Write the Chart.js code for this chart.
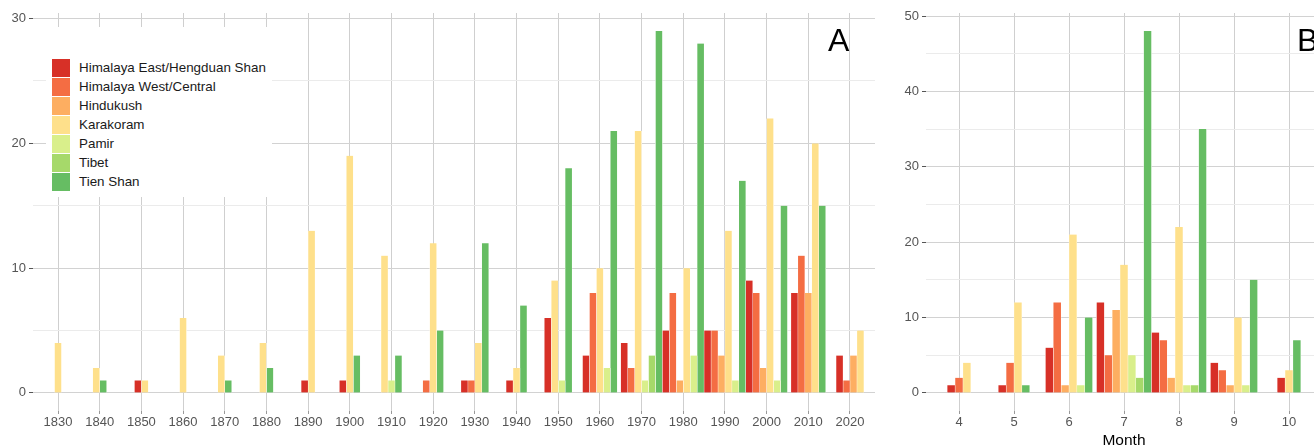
<!DOCTYPE html>
<html lang="en">
<head>
    <meta charset="UTF-8">
    <meta name="viewport" content="width=device-width, initial-scale=1.0">
    <title>Surges by decade and month</title>
    <script src="https://cdn.jsdelivr.net/npm/chart.js"></script>
    <style>
        * {
            margin: 0;
            padding: 0;
            box-sizing: border-box;
        }
        body {
            position: relative;
            width: 1314px;
            height: 446px;
            overflow: hidden;
            background: #ffffff;
            font-family: "Liberation Sans", Arial, sans-serif;
        }
        .panel {
            position: absolute;
            top: 0;
            height: 446px;
        }
        #panelA { left: 0; width: 880px; }
        #panelB { left: 880px; width: 452px; }
        .tag {
            position: absolute;
            top: 24px;
            font-size: 32px;
            line-height: 1;
            color: #000;
        }
        .legend {
            position: absolute;
            left: 46px;
            top: 27px;
            width: 226px;
            height: 170px;
            background: #ffffff;
            padding: 31px 0 0 6px;
        }
        .legend-item {
            display: flex;
            align-items: center;
            height: 19px;
            font-size: 13.4px;
            color: #1a1a1a;
        }
        .legend-key {
            width: 18px;
            height: 18px;
            margin-right: 9px;
        }
        .x-title {
            position: absolute;
            left: 1074px;
            width: 100px;
            top: 432px;
            text-align: center;
            font-size: 15.5px;
            line-height: 1;
            color: #000;
        }
    </style>
</head>
<body>
    <div class="panel" id="panelA"><canvas id="chartA"></canvas></div>
    <div class="panel" id="panelB"><canvas id="chartB"></canvas></div>
    <div class="legend" id="legend"></div>
    <div class="tag" style="left: 828px;">A</div>
    <div class="tag" style="left: 1297px;">B</div>
    <div class="x-title">Month</div>

    <script>
        const regions = ['Himalaya East/Hengduan Shan', 'Himalaya West/Central', 'Hindukush', 'Karakoram', 'Pamir', 'Tibet', 'Tien Shan'];
        const regionColors = ['#d73027', '#f46d43', '#fdae61', '#fee08b', '#d9ef8b', '#a6d96a', '#66bd63'];

        // panel A: surges per decade (null = none in that decade)
        const decades = [1830, 1840, 1850, 1860, 1870, 1880, 1890, 1900, 1910, 1920, 1930, 1940, 1950, 1960, 1970, 1980, 1990, 2000, 2010, 2020];
        const himEastByDecade  = [null, null, 1, null, null, null, 1, 1, null, null, 1, 1, 6, 3, 4, 5, 5, 9, 8, 3];
        const himWestByDecade  = [null, null, null, null, null, null, null, null, null, 1, 1, null, null, 8, 2, 8, 5, 8, 11, 1];
        const hindukushByDecade = [null, null, null, null, null, null, null, null, null, null, null, null, null, null, null, 1, 3, 2, 8, 3];
        const karakoramByDecade = [4, 2, 1, 6, 3, 4, 13, 19, 11, 12, 4, 2, 9, 10, 21, 10, 13, 22, 20, 5];
        const pamirByDecade    = [null, null, null, null, null, null, null, null, 1, null, null, null, 1, 2, 1, 3, 1, 1, null, null];
        const tibetByDecade    = [null, null, null, null, null, null, null, null, null, null, null, null, null, null, 3, null, null, null, null, null];
        const tienShanByDecade = [null, 1, null, null, 1, 2, null, 3, 3, 5, 12, 7, 18, 21, 29, 28, 17, 15, 15, null];
        const yTicksA = [0, 5, 10, 15, 20, 25, 30];

        // panel B: surges per month
        const months = [4, 5, 6, 7, 8, 9, 10];
        const himEastByMonth  = [1, 1, 6, 12, 8, 4, 2];
        const himWestByMonth  = [2, 4, 12, 5, 7, 3, null];
        const hindukushByMonth = [null, null, 1, 11, 2, 1, null];
        const karakoramByMonth = [4, 12, 21, 17, 22, 10, 3];
        const pamirByMonth    = [null, null, 1, 5, 1, 1, null];
        const tibetByMonth    = [null, null, null, 2, 1, null, null];
        const tienShanByMonth = [null, 1, 10, 48, 35, 15, 7];
        const yTicksB = [0, 5, 10, 15, 20, 25, 30, 35, 40, 45, 50];

        Chart.defaults.font.family = '"Liberation Sans", Arial, sans-serif';

        function buildChart(elementId, labels, series, yTicks, cfg) {
            return new Chart(document.getElementById(elementId), {
                type: 'bar',
                data: {
                    labels: labels,
                    datasets: regions.map((name, i) => ({
                        label: name,
                        data: series[i],
                        backgroundColor: regionColors[i],
                        borderColor: '#ffffff',
                        borderWidth: { left: 0.5, right: 0.5, top: 0, bottom: 0 },
                        barThickness: cfg.barWidth,
                        skipNull: true
                    }))
                },
                options: {
                    responsive: true,
                    maintainAspectRatio: false,
                    animation: false,
                    layout: { padding: { top: 13, right: cfg.rightPad, left: 0, bottom: 0 } },
                    plugins: { legend: { display: false }, tooltip: { enabled: false } },
                    scales: {
                        x: {
                            type: 'linear',
                            min: labels[0] - cfg.xPad,
                            max: labels[labels.length - 1] + cfg.xPad,
                            offset: false,
                            border: { display: false },
                            grid: { offset: false, color: '#cfcfcf', lineWidth: 1, tickLength: 3, tickColor: '#9a9a9a' },
                            afterBuildTicks: s => { s.ticks = labels.map(v => ({ value: v })); },
                            afterFit: s => { s.height = 35; },
                            ticks: {
                                autoSkip: false, maxRotation: 0, padding: 1,
                                color: '#555555', font: { size: 13 },
                                callback: v => String(v)
                            }
                        },
                        y: {
                            min: cfg.yMin,
                            max: cfg.yMax,
                            border: { display: false },
                            afterBuildTicks: s => { s.ticks = yTicks.map(v => ({ value: v })); },
                            afterFit: s => { s.width = cfg.axisWidth; },
                            grid: {
                                color: c => c.tick.value % 10 === 0 ? '#d2d2d2' : '#ebebeb',
                                tickColor: c => c.tick.value % 10 === 0 ? '#555555' : 'rgba(0,0,0,0)',
                                tickLength: 4
                            },
                            ticks: {
                                padding: 3, color: '#555555', font: { size: 13 },
                                callback: v => v % 10 === 0 ? String(v) : ''
                            }
                        }
                    }
                }
            });
        }

        buildChart('chartA', decades,
            [himEastByDecade, himWestByDecade, hindukushByDecade, karakoramByDecade, pamirByDecade, tibetByDecade, tienShanByDecade],
            yTicksA,
            { xPad: 6, yMin: -1.45, yMax: 30.45, barWidth: 6.95, axisWidth: 33, rightPad: 5 });

        buildChart('chartB', months,
            [himEastByMonth, himWestByMonth, hindukushByMonth, karakoramByMonth, pamirByMonth, tibetByMonth, tienShanByMonth],
            yTicksB,
            { xPad: 0.6, yMin: -2.4, yMax: 50.4, barWidth: 7.86, axisWidth: 46, rightPad: 10 });

        const legend = document.getElementById('legend');
        regions.forEach((name, i) => {
            const item = document.createElement('div');
            item.className = 'legend-item';
            const key = document.createElement('span');
            key.className = 'legend-key';
            key.style.background = regionColors[i];
            const text = document.createElement('span');
            text.textContent = name;
            item.appendChild(key);
            item.appendChild(text);
            legend.appendChild(item);
        });
    </script>
</body>
</html>
